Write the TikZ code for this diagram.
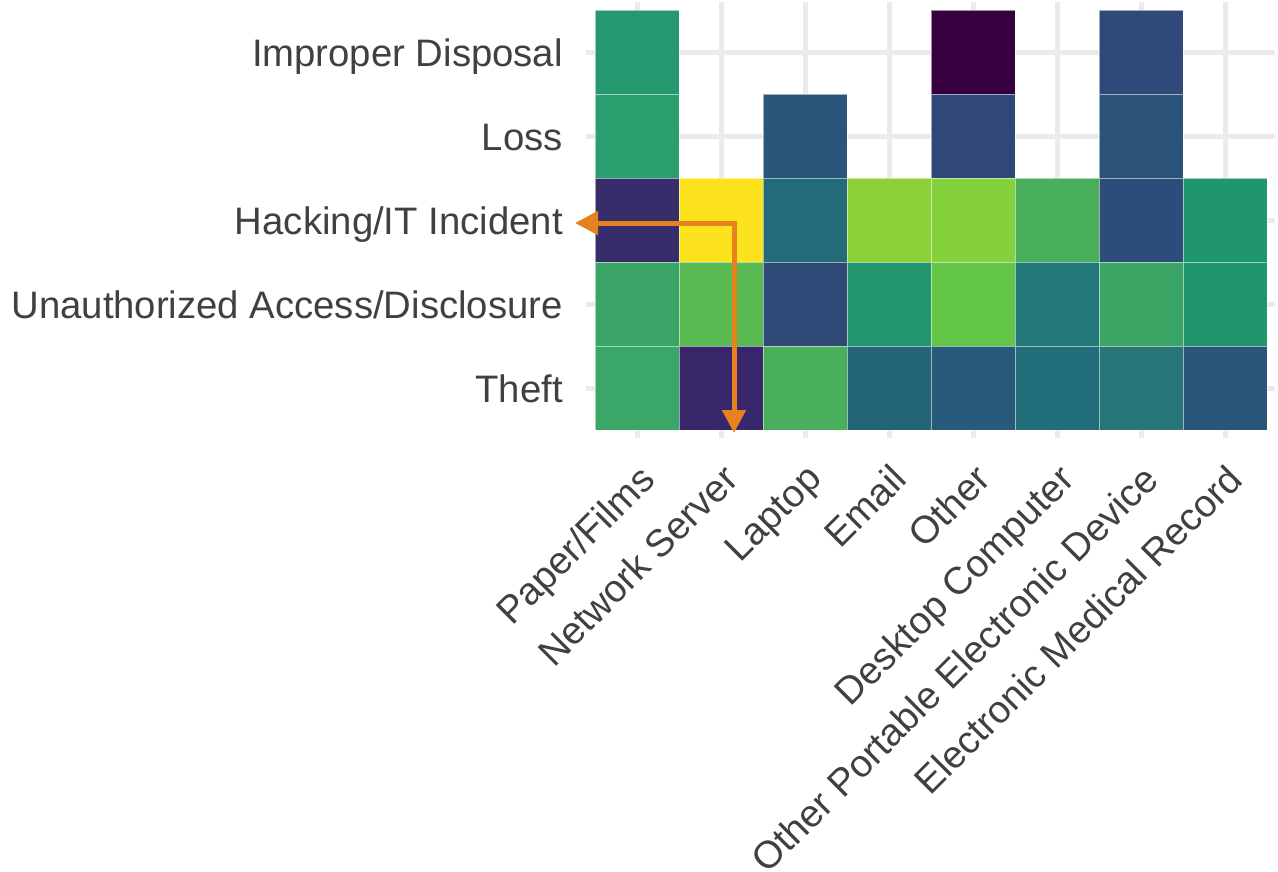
\documentclass[tikz,border=0pt]{standalone}
\usepackage{fontspec}
\setmainfont{Liberation Sans}
\usetikzlibrary{arrows.meta}
\definecolor{gridgray}{HTML}{EBEBEB}
\definecolor{labelgray}{HTML}{404040}
\definecolor{accent}{HTML}{E6821E}
\begin{document}
\begin{tikzpicture}[x=1pt,y=-1pt,
  gridline/.style={gridgray, line width=5},
  tile/.style={draw=white, draw opacity=0.55, line width=1},
  ylab/.style={anchor=base east, inner sep=0, text=labelgray,
    font=\fontsize{38.3}{46}\selectfont},
  xlab/.style={anchor=north east, rotate=45, inner sep=0, text=labelgray,
    font=\fontsize{38.3}{46}\selectfont},
  callout/.style={accent, line width=5, line join=miter,
    {Triangle[width=23,length=23]}-{Triangle[width=23,length=23]}}]
\useasboundingbox (0,0) rectangle (1278,871);

% background grid at category centres
\foreach \i in {0,...,7}
  \draw[gridline] ({637+84*\i},2) -- ({637+84*\i},438);
\foreach \j in {0,...,4}
  \draw[gridline] (586,{52+84*\j}) -- (1275,{52+84*\j});

% heat-map tiles: column / row / fill
\foreach \c/\r/\hex in {
  1/1/26986F, 5/1/36003F, 7/1/2F4A79,
  1/2/2B9E70, 3/2/2A557A, 5/2/2F4878, 7/2/2B5379,
  1/3/372D6B, 2/3/FCE31E, 3/3/236B79, 4/3/8CD13A, 5/3/84D13C, 6/3/4AAF5B, 7/3/2E4C7A, 8/3/20966F,
  1/4/3AA566, 2/4/58BA51, 3/4/2F4977, 4/4/22976F, 5/4/63C546, 6/4/227878, 7/4/3AA565, 8/4/20966F,
  1/5/3AA667, 2/5/37276A, 3/5/4AAF5C, 4/5/236479, 5/5/27597A, 6/5/226D7A, 7/5/267677, 8/5/2A5679}
{
  \definecolor{tilefill}{HTML}{\hex}
  \fill[tilefill, tile] ({595+84*(\c-1)},{10+84*(\r-1)}) rectangle ++(84,84);
}

% row labels
\node[ylab] (yDisposal) at (563,66)  {Improper Disposal};
\node[ylab] (yLoss)     at (563,150) {Loss};
\node[ylab] (yHacking)  at (563,234) {Hacking/IT Incident};
\node[ylab] (yAccess)   at (563,318) {Unauthorized Access/Disclosure};
\node[ylab] (yTheft)    at (563,402) {Theft};

% column labels
\node[xlab] (xPaper)    at (637,462)  {Paper/Films};
\node[xlab] (xServer)   at (721,462)  {Network Server};
\node[xlab] (xLaptop)   at (805,462)  {Laptop};
\node[xlab] (xEmail)    at (889,462)  {Email};
\node[xlab] (xOther)    at (973,462)  {Other};
\node[xlab] (xDesktop)  at (1057,462) {Desktop Computer};
\node[xlab] (xPortable) at (1141,462) {Other Portable Electronic Device};
\node[xlab] (xRecord)   at (1225,462) {Electronic Medical Record};

% highlighted cell: read off its row and column
\coordinate (elbow)   at (734,223);
\coordinate (rowTip)  at (575,223);
\coordinate (colTip)  at (734,433);
\draw[callout] (rowTip) -- (elbow) -- (colTip);
\end{tikzpicture}
\end{document}
